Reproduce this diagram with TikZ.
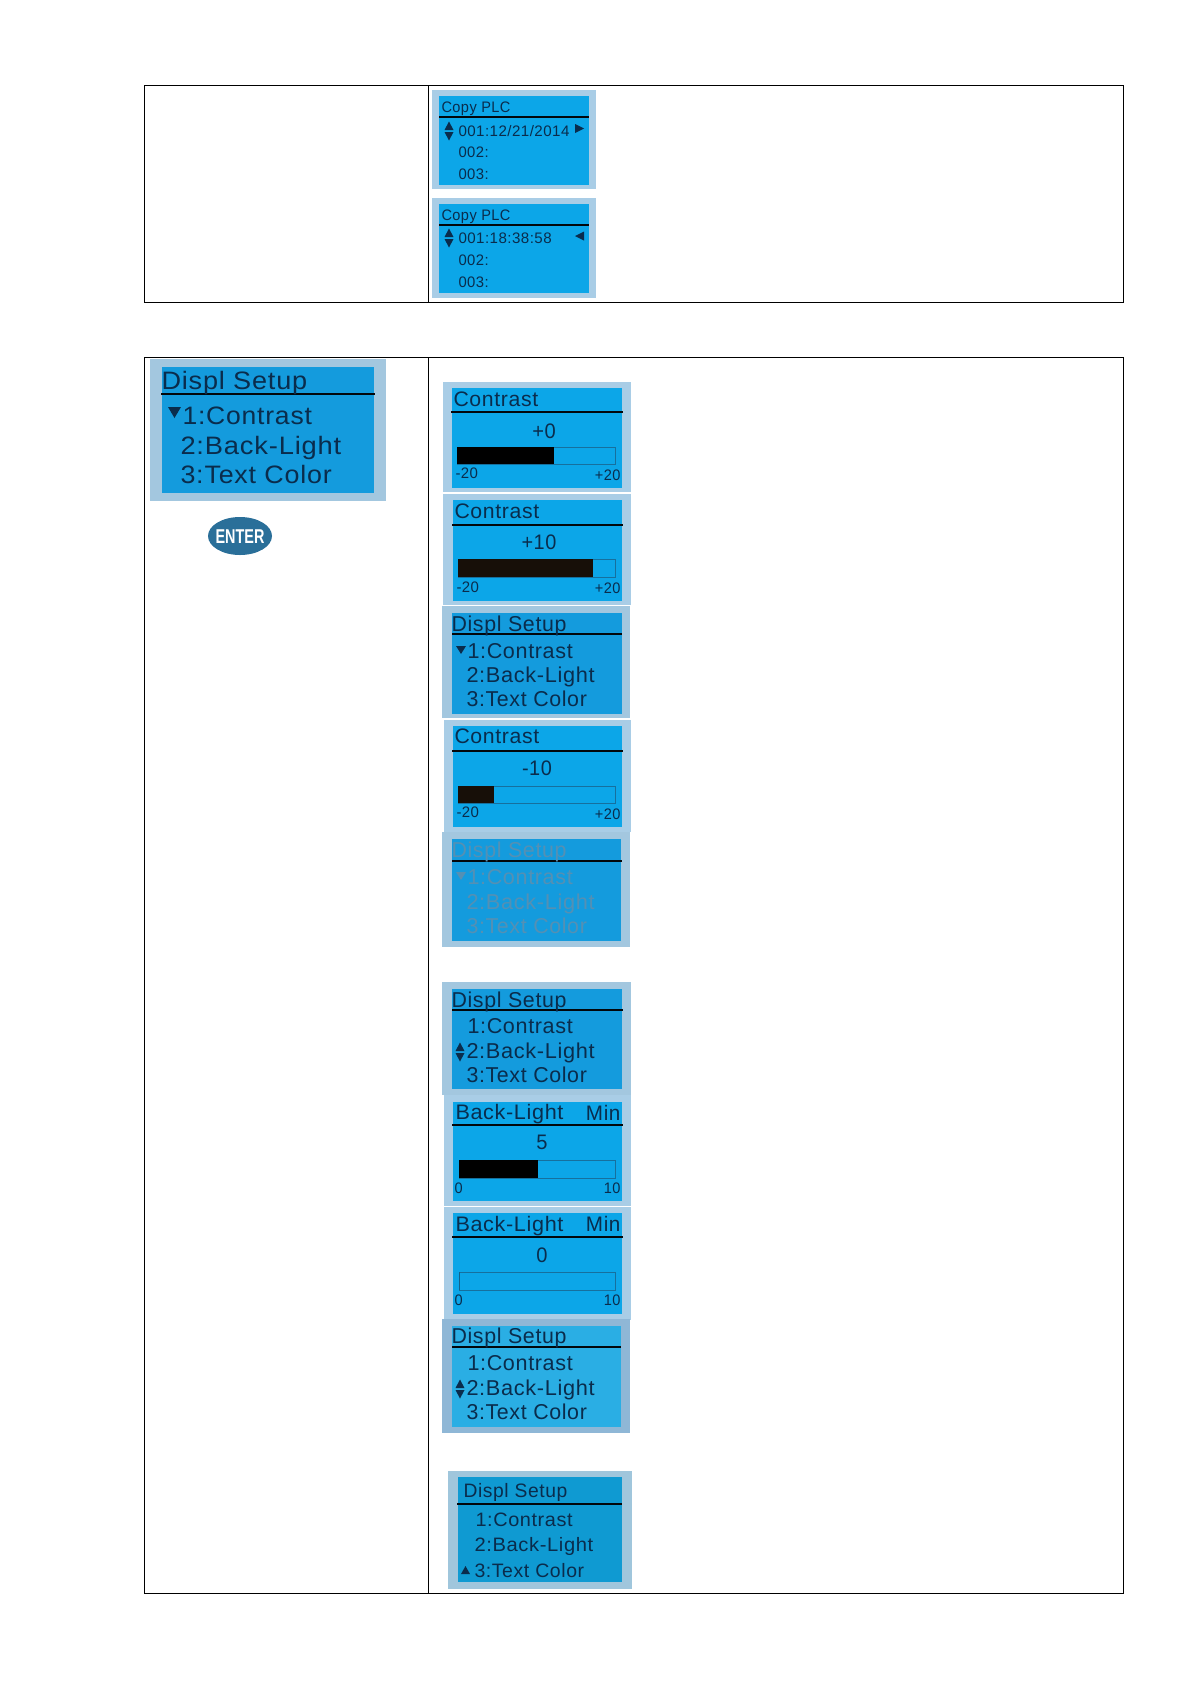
\documentclass[tikz,border=0pt]{standalone}
\usetikzlibrary{shapes.geometric}
\usepackage{fontspec}
\setmainfont[LetterSpace=3]{Liberation Sans}
\newfontfamily\keyfont{Liberation Sans}
\definecolor{lcdtxt}{HTML}{0A2C4C}
\definecolor{frameA}{HTML}{A9CDE6}
\definecolor{frameB}{HTML}{A3C7DF}
\definecolor{frameC}{HTML}{8FB7D6}
\definecolor{frameD}{HTML}{A0C6DC}
\definecolor{lcdA}{HTML}{0CA6E8}
\definecolor{lcdB}{HTML}{149BDD}
\definecolor{lcdC}{HTML}{2AAEE4}
\definecolor{lcdD}{HTML}{0F9AD2}
\definecolor{dimtxt}{HTML}{5490B4}
\definecolor{barline}{HTML}{16709E}
\definecolor{entercol}{HTML}{2A6F99}
\newcounter{lbl}
\def\anchw{base west}
\def\anche{base east}
\newcommand{\panel}[8]{%
  \fill[#1] (#3) rectangle (#4);
  \fill[#2] (#5) rectangle (#6);
  \draw[rulecol,line width=#8pt] #7;}
% \lt{anchor}{x,y}{size}{stretch}{colour}{text}
\newcommand{\lt}[6]{\stepcounter{lbl}%
  \pgfmathsetmacro\lsz{#3*1.05}%
  \pgfmathsetmacro\lst{#4/1.098}%
  \def\anchcur{#1}%
  \ifx\anchcur\anchw\def\lsh{-0.5pt}\else\ifx\anchcur\anche\def\lsh{0.5pt}\else\def\lsh{0pt}\fi\fi
  \node[lcdlabel,anchor=#1,xshift=\lsh,xscale=\lst,text=#5,font=\fontsize{\lsz}{\lsz}\selectfont] (lbl\arabic{lbl}) at (#2) {#6};}
\newcommand{\updn}[3][lcdtxt]{%
  \fill[#1] (#2-4.5,#3-1) -- (#2+4.5,#3-1) -- (#2,#3-9.5) -- cycle;
  \fill[#1] (#2-4.5,#3+1) -- (#2+4.5,#3+1) -- (#2,#3+9.5) -- cycle;}
\newcommand{\meter}[5]{%
  \fill[lcdA] (#1,#3) rectangle (615.5,#4);
  \draw[barline,line width=.7pt] (#1,#3) rectangle (615.5,#4);
  \fill[#5] (#1,#3) rectangle (#2,#4);}
\newcommand{\setupmenu}[6]{% colour, x title, ytitle, y1,y2,y3
  \lt{base west}{#2,#3}{20.5}{1.09}{#1}{Displ Setup}
  \lt{base west}{468,#4}{20.5}{1.10}{#1}{1:Contrast}
  \lt{base west}{467,#5}{20.5}{1.11}{#1}{2:Back-Light}
  \lt{base west}{467,#6}{20.5}{1.09}{#1}{3:Text Color}}
\tikzset{
  lcdlabel/.style={inner sep=0pt,outer sep=0pt},
  rulecol/.style={draw=black!85!lcdtxt},
  tablerule/.style={draw=black,line width=.9pt}
}
\begin{document}
\begin{tikzpicture}[x=1pt,y=-1pt]
\useasboundingbox (0,0) rectangle (1191,1684);
\fill[white] (0,0) rectangle (1191,1684);
% tables
\draw[tablerule] (144.3,85.3) rectangle (1123.4,302);
\draw[tablerule] (428,85.3) -- (428,302);
\draw[tablerule] (144.3,357.3) rectangle (1123.4,1593);
\draw[tablerule] (428,357.3) -- (428,1593);

% Copy PLC 1
\panel{frameA}{lcdA}{432,90}{596,189}{439,96}{589,185}{(439,117) -- (589,117)}{1.2}
\lt{base west}{442,112}{14.5}{1.05}{lcdtxt}{Copy PLC}
\lt{base west}{459,136}{14.5}{1.09}{lcdtxt}{001:12/21/2014}
\lt{base west}{459,157.5}{14.5}{1.07}{lcdtxt}{002:}
\lt{base west}{459,179.5}{14.5}{1.07}{lcdtxt}{003:}
\updn{449}{131}
\fill[lcdtxt] (575,124) -- (584,128.5) -- (575,133) -- cycle;
% Copy PLC 2
\panel{frameA}{lcdA}{432,198}{596,298}{439,204}{589,293}{(439,225) -- (589,225)}{1.2}
\lt{base west}{442,220}{14.5}{1.05}{lcdtxt}{Copy PLC}
\lt{base west}{459,243.5}{14.5}{1.09}{lcdtxt}{001:18:38:58}
\lt{base west}{459,265.5}{14.5}{1.07}{lcdtxt}{002:}
\lt{base west}{459,287.5}{14.5}{1.07}{lcdtxt}{003:}
\updn{449}{238}
\fill[lcdtxt] (584,231.5) -- (575,236) -- (584,240.5) -- cycle;

% big Displ Setup
\panel{frameB}{lcdB}{150,359}{386,501}{162,367}{374,493}{(161,394) -- (375,394)}{1.2}
\lt{base west}{162,389}{24}{1.18}{lcdtxt}{Displ Setup}
\lt{base west}{183,424}{24}{1.155}{lcdtxt}{1:Contrast}
\lt{base west}{181,454}{24}{1.19}{lcdtxt}{2:Back-Light}
\lt{base west}{181,483}{24}{1.17}{lcdtxt}{3:Text Color}
\fill[lcdtxt] (168,407) -- (181,407) -- (174.5,418) -- cycle;
% ENTER key
\node[ellipse,fill=entercol,minimum width=64pt,minimum height=38pt,inner sep=0pt] (enterkey) at (240,536) {};
\node[inner sep=0pt,anchor=base,text=white,xscale=.72,font=\fontsize{20}{20}\keyfont\bfseries] (entertxt) at (240,543) {ENTER};

% Contrast +0
\panel{frameA}{lcdA}{443,382}{631,492}{452,388}{622,488}{(451,412) -- (623,412)}{1.6}
\lt{base west}{454,406}{20}{1.11}{lcdtxt}{Contrast}
\lt{base}{544,438}{20}{1.05}{lcdtxt}{+0}
\meter{457}{554}{447}{464}{black}
\lt{base west}{456,478}{14.5}{1.08}{lcdtxt}{-20}
\lt{base east}{620,480}{14.5}{1.05}{lcdtxt}{+20}
% Contrast +10
\panel{frameA}{lcdA}{443,494}{631,605}{453,500}{622,601}{(452,525) -- (623,525)}{1.6}
\lt{base west}{455,518}{20}{1.11}{lcdtxt}{Contrast}
\lt{base}{539,549}{20}{1.04}{lcdtxt}{+10}
\meter{458}{593}{559}{577}{black!88!brown}
\lt{base west}{457,592}{14.5}{1.08}{lcdtxt}{-20}
\lt{base east}{620,593}{14.5}{1.05}{lcdtxt}{+20}
% Displ Setup, contrast selected
\panel{frameB}{lcdB}{442,606}{630,718}{452,613}{622,714}{(452,634) -- (622,634)}{1.2}
\setupmenu{lcdtxt}{452}{631}{658}{682}{706}
\fill[lcdtxt] (456,646) -- (466,646) -- (461,654) -- cycle;
% Contrast -10
\panel{frameA}{lcdA}{444,720}{631,832}{453,726}{622,827}{(452,751) -- (623,751)}{1.6}
\lt{base west}{455,743}{20}{1.11}{lcdtxt}{Contrast}
\lt{base}{537,775}{20}{1.04}{lcdtxt}{-10}
\meter{458}{494}{786}{803}{black!88!brown}
\lt{base west}{457,817}{14.5}{1.08}{lcdtxt}{-20}
\lt{base east}{620,819}{14.5}{1.05}{lcdtxt}{+20}
% Displ Setup, dimmed text
\panel{frameB}{lcdB}{442,832}{630,947}{452,839}{621,941}{(452,861) -- (622,861)}{1.2}
\setupmenu{dimtxt}{452}{857}{884}{909}{933}
\fill[dimtxt] (456,872) -- (466,872) -- (461,880) -- cycle;

% Displ Setup, backlight selected
\panel{frameB}{lcdB}{442,982}{631,1095}{452,989}{622,1089}{(452,1010) -- (623,1010)}{1.2}
\setupmenu{lcdtxt}{452}{1007}{1033}{1058}{1082}
\updn{460}{1052}
% Back-Light 5
\panel{frameA}{lcdA}{444,1095}{631,1206}{453,1102}{622,1201}{(452,1125) -- (623,1125)}{1.6}
\lt{base west}{456,1119}{20}{1.13}{lcdtxt}{Back-Light}
\lt{base east}{620,1120}{20}{1.08}{lcdtxt}{Min}
\lt{base}{542,1149}{20}{1.05}{lcdtxt}{5}
\meter{459}{538}{1160}{1178}{black}
\lt{base west}{455,1193}{14.5}{1.05}{lcdtxt}{0}
\lt{base east}{620,1193}{14.5}{1.05}{lcdtxt}{10}
% Back-Light 0
\panel{frameA}{lcdA}{444,1207}{631,1320}{453,1213}{622,1314}{(452,1237) -- (623,1237)}{1.6}
\lt{base west}{456,1231}{20}{1.13}{lcdtxt}{Back-Light}
\lt{base east}{620,1231.5}{20}{1.08}{lcdtxt}{Min}
\lt{base}{542,1262}{20}{1.05}{lcdtxt}{0}
\meter{459}{459}{1272}{1290}{black}
\lt{base west}{455,1305}{14.5}{1.05}{lcdtxt}{0}
\lt{base east}{620,1305}{14.5}{1.05}{lcdtxt}{10}
% Displ Setup, lighter
\panel{frameC}{lcdC}{442,1319}{630,1433}{452,1326}{621,1427}{(452,1347) -- (621,1347)}{1.2}
\setupmenu{lcdtxt}{452}{1343}{1370}{1395}{1419}
\updn{460}{1389}

% Displ Setup, text colour selected
\panel{frameD}{lcdD}{448,1471}{632,1589}{458,1477}{622,1582}{(457,1504) -- (622,1504)}{1.8}
\lt{base west}{464,1497}{18.5}{1.09}{lcdtxt}{Displ Setup}
\lt{base west}{476,1526}{18.5}{1.125}{lcdtxt}{1:Contrast}
\lt{base west}{475,1551}{18.5}{1.14}{lcdtxt}{2:Back-Light}
\lt{base west}{475,1577}{18.5}{1.10}{lcdtxt}{3:Text Color}
\fill[lcdtxt] (461,1574) -- (470,1574) -- (465.5,1566) -- cycle;
\end{tikzpicture}
\end{document}
